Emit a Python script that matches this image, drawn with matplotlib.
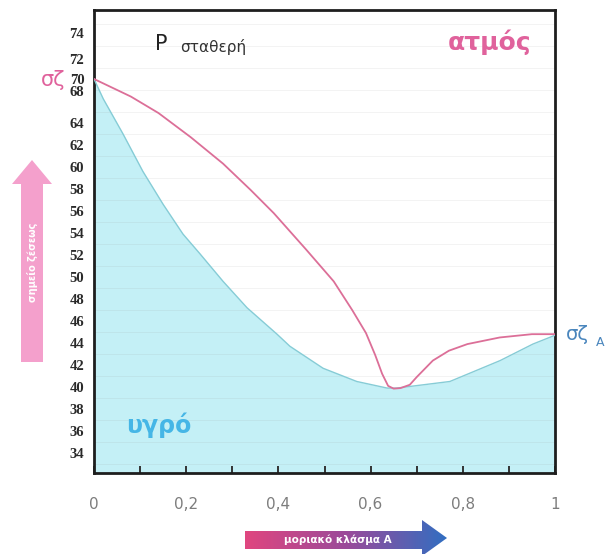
import numpy as np
import matplotlib.pyplot as plt
from matplotlib.patches import Polygon
from matplotlib.colors import LinearSegmentedColormap

# vapour curve (dew line) and liquid curve (bubble line)
x_vap = [0, 0.08, 0.14, 0.21, 0.28, 0.34, 0.39, 0.46, 0.52, 0.56, 0.59, 0.61,
         0.625, 0.638, 0.65, 0.665, 0.685, 0.70, 0.735, 0.77, 0.81, 0.88, 0.95, 1.0]
y_vap = [68.0, 66.4, 64.9, 62.7, 60.3, 57.9, 55.8, 52.5, 49.6, 47.0, 44.9, 42.9,
         41.2, 40.1, 39.85, 39.9, 40.2, 40.9, 42.4, 43.3, 43.9, 44.5, 44.8, 44.8]

x_liq = [0, 0.02, 0.063, 0.106, 0.15, 0.193, 0.23, 0.28, 0.332, 0.397, 0.425,
         0.497, 0.57, 0.636, 0.657, 0.772, 0.881, 0.952, 1.0]
y_liq = [68.0, 66.2, 63.0, 59.6, 56.6, 53.9, 52.1, 49.6, 47.2, 44.8, 43.7,
         41.7, 40.5, 39.9, 39.9, 40.5, 42.4, 43.9, 44.7]

x_ticks = [0, 0.2, 0.4, 0.6, 0.8, 1.0]
x_tick_labels = ['0', '0,2', '0,4', '0,6', '0,8', '1']
y_tick_labels = ['34', '36', '38', '40', '42', '44', '46', '48', '50', '52', '54',
                 '56', '58', '60', '62', '64', '68', '70', '72', '74']
# the printed scale is squeezed at the top (66 is missing)
y_tick_pos = list(range(34, 65, 2)) + [66.9, 68.0, 69.8, 72.2]

W, H = 605, 554


def fx(px):
    return px / W


def fy(py):
    return 1 - py / H


fig = plt.figure(figsize=(W / 100, H / 100), dpi=100)
ax = fig.add_axes([fx(94), fy(473), 461 / W, 463 / H])

ax.fill_between(x_liq, y_liq, 30, color='#c4f0f6', lw=0, zorder=1)
for yy in np.arange(33, 74, 2.0):
    ax.axhline(yy, color='#8a8a8a', lw=0.6, alpha=0.12, zorder=2)
ax.plot(x_liq, y_liq, color='#86ccd6', lw=1.0, zorder=3)
ax.plot(x_vap, y_vap, color='#dc6f98', lw=1.3, zorder=4)

ax.set_xlim(0, 1)
ax.set_ylim(32.18, 74.27)

ax.set_xticks(x_ticks, x_tick_labels)
ax.set_xticks(np.arange(0.1, 1.0, 0.2), minor=True)
ax.tick_params(axis='x', which='both', direction='in', length=5, width=1.4,
               color='#333333', pad=17, labelsize=11, labelcolor='#7d7d7d')
ax.set_yticks(y_tick_pos, y_tick_labels)
ax.tick_params(axis='y', length=0, pad=7, labelsize=10.5, labelcolor='#2a2a2a')
for lab in ax.get_yticklabels():
    lab.set_fontfamily('Liberation Serif')
    lab.set_fontweight('bold')

for s in ax.spines.values():
    s.set_linewidth(2)
    s.set_color('#1e1e1e')

# labels inside the plot
ax.text(fx(155), fy(44), 'P', transform=fig.transFigure, fontsize=15,
        color='#222222', va='center', ha='left')
ax.text(fx(180), fy(47), 'σταθερή', transform=fig.transFigure, fontsize=11,
        color='#333333', va='center', ha='left')
ax.text(fx(490), fy(42), 'ατμός', transform=fig.transFigure, fontsize=18,
        fontweight='bold', color='#e0629c', va='center', ha='center')
ax.text(fx(159), fy(425), 'υγρό', transform=fig.transFigure, fontsize=17,
        fontweight='bold', color='#45b6e6', va='center', ha='center')
fig.text(fx(41), fy(80), 'σζ', fontsize=15, color='#e0629c', va='center', ha='left')
fig.text(fx(566), fy(335), 'σζ', fontsize=14, color='#4a86bd', va='center', ha='left')
fig.text(fx(596), fy(343), 'Α', fontsize=9, color='#4a86bd', va='center', ha='left')

# pink arrow on the left (boiling point)
up = [(32, 160), (52, 184), (43, 184), (43, 362), (21, 362), (21, 184), (12, 184)]
fig.patches.append(Polygon([(fx(a), fy(b)) for a, b in up], closed=True,
                           transform=fig.transFigure, color='#f4a0cc', lw=0))
fig.text(fx(32), fy(262), 'σημείο ζέσεως', rotation=90, fontsize=7,
         fontweight='bold', color='white', va='center', ha='center')

# gradient arrow at the bottom (mole fraction)
ax2 = fig.add_axes([fx(245), fy(556), 203 / W, 38 / H])
ax2.set_xlim(245, 448)
ax2.set_ylim(556, 518)
ax2.axis('off')
cmap = LinearSegmentedColormap.from_list('arr', ['#e0467f', '#9a4a9a', '#2f6fc2'])
grad = np.linspace(0, 1, 256)[None, :]
img = ax2.imshow(grad, cmap=cmap, extent=[245, 448, 556, 518], aspect='auto')
right = [(245, 531), (422, 531), (422, 520), (447, 538), (422, 556), (422, 549), (245, 549)]
clip = Polygon(right, closed=True, transform=ax2.transData, fc='none', lw=0)
ax2.add_patch(clip)
img.set_clip_path(clip)
ax2.text(338, 540, 'μοριακό κλάσμα Α', fontsize=7.5, fontweight='bold',
         color='white', va='center', ha='center')

fig.savefig('out.png', dpi=100)
